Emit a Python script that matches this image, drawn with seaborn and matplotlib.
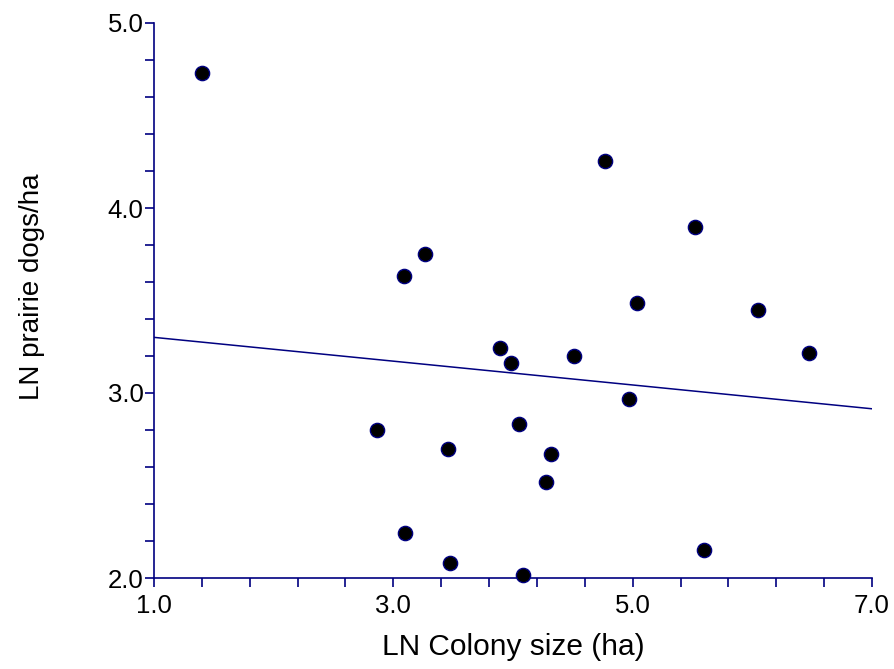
import numpy as np
import pandas as pd
import matplotlib
matplotlib.use("Agg")
import matplotlib.pyplot as plt
import seaborn as sns
from matplotlib.ticker import MultipleLocator, FixedLocator

# ---- data ----
colony_size_ln = [1.40, 2.866, 3.092, 3.097, 3.265, 3.454, 3.471, 3.891, 3.986, 4.05,
                  4.083, 4.276, 4.315, 4.512, 4.766, 4.967, 5.033, 5.521, 5.599, 6.05, 6.476]
density_ln = [4.73, 2.798, 3.634, 2.242, 3.751, 2.696, 2.079, 3.243, 3.164, 2.834,
              2.016, 2.519, 2.669, 3.20, 4.254, 2.966, 3.486, 3.897, 2.151, 3.449, 3.216]
x_major = [1.0, 3.0, 5.0, 7.0]
y_major = [2.0, 3.0, 4.0, 5.0]
x_label = "LN Colony size (ha)"
y_label = "LN prairie dogs/ha"

df = pd.DataFrame({"x": colony_size_ln, "y": density_ln})

sns.set_style("white")
plt.rcParams["font.family"] = ["Liberation Sans", "DejaVu Sans"]

navy = "#000080"
fig = plt.figure(figsize=(8.95, 6.69), dpi=100)
ax = fig.add_axes([154 / 895, 1 - 578 / 669, 718 / 895, 555 / 669])
ax.set_xlim(1.0, 7.0)
ax.set_ylim(2.0, 5.0)

sns.regplot(data=df, x="x", y="y", ax=ax, ci=None, truncate=False,
            scatter_kws=dict(s=105, color="black", edgecolors=navy, linewidths=1.0,
                             alpha=1, zorder=3, clip_on=False),
            line_kws=dict(color=navy, lw=1.1, zorder=2))

ax.set_xlim(1.0, 7.0)
ax.set_ylim(2.0, 5.0)

ax.xaxis.set_major_locator(FixedLocator(x_major))
ax.xaxis.set_minor_locator(FixedLocator(np.arange(1.0, 7.001, 0.4)))
ax.yaxis.set_major_locator(FixedLocator(y_major))
ax.yaxis.set_minor_locator(FixedLocator(np.arange(2.0, 5.001, 0.2)))
ax.set_xticklabels([f"{v:.1f}" for v in x_major])
ax.set_yticklabels([f"{v:.1f}" for v in y_major])

for s in ["top", "right"]:
    ax.spines[s].set_visible(False)
for s in ["left", "bottom"]:
    ax.spines[s].set_color(navy)
    ax.spines[s].set_linewidth(1.2)

ax.tick_params(axis="both", which="both", direction="out", color=navy,
               bottom=True, left=True, top=False, right=False,
               width=1.2, length=6.5, labelcolor="black", labelsize=18.5)
ax.tick_params(axis="x", which="both", pad=5)
ax.tick_params(axis="y", which="both", pad=1)

ax.set_xlabel(x_label, fontsize=21.5, color="black")
ax.set_ylabel(y_label, fontsize=20, color="black")
ax.xaxis.set_label_coords(0.5, -0.1387)
ax.xaxis.label.set_va("baseline")
ax.yaxis.set_label_coords(-0.17, 0.525)
ax.yaxis.label.set_va("center")

fig.savefig("out.png", dpi=100, facecolor="white")
